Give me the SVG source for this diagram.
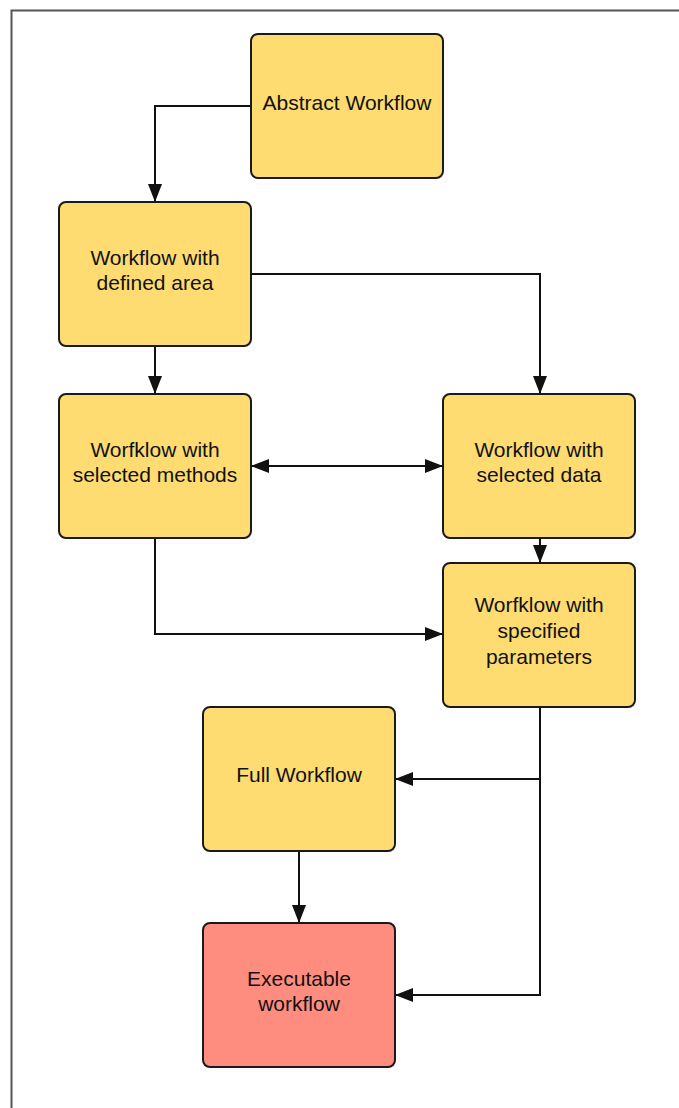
<svg xmlns="http://www.w3.org/2000/svg" width="679" height="1108" viewBox="0 0 679 1108">
  <style>
    .node rect { stroke: #1a1a1a; stroke-width: 2; }
    .proc rect { fill: #fedc72; }
    .final rect { fill: #ff8d7f; }
    .node text { font-family: "Liberation Sans", Arial, sans-serif; font-size: 21px; fill: #111; text-anchor: middle; }
    .edge { fill: none; stroke: #111; stroke-width: 2; }
  </style>
  <defs>
    <marker id="arrow" viewBox="0 0 18 14" refX="18" refY="7" markerWidth="18" markerHeight="14" markerUnits="userSpaceOnUse" orient="auto-start-reverse">
      <path d="M0,0 L18,7 L0,14 Z" fill="#111"/>
    </marker>
  </defs>

  <rect width="679" height="1108" fill="#fff"/>
  <!-- page frame -->
  <path d="M11.5,1108 V10.5 H679" fill="none" stroke="#555" stroke-width="2"/>

  <g id="connectors">
    <path class="edge" d="M251,106 H155 V202" marker-end="url(#arrow)"/>
    <path class="edge" d="M251,274 H540 V394" marker-end="url(#arrow)"/>
    <path class="edge" d="M155,346 V394" marker-end="url(#arrow)"/>
    <path class="edge" d="M251,466 H443" marker-start="url(#arrow)" marker-end="url(#arrow)"/>
    <path class="edge" d="M540,538 V563" marker-end="url(#arrow)"/>
    <path class="edge" d="M155,538 V634 H443" marker-end="url(#arrow)"/>
    <path class="edge" d="M540,707 V779 H395" marker-end="url(#arrow)"/>
    <path class="edge" d="M540,779 V995 H395" marker-end="url(#arrow)"/>
    <path class="edge" d="M299,851 V923" marker-end="url(#arrow)"/>
  </g>

  <g id="abstract-workflow" class="node proc">
    <rect x="251" y="34" width="192" height="144" rx="7"/>
    <text x="347" y="110">Abstract Workflow</text>
  </g>

  <g id="defined-area" class="node proc">
    <rect x="59" y="202" width="192" height="144" rx="7"/>
    <text x="155" y="265">Workflow with</text>
    <text x="155" y="290">defined area</text>
  </g>

  <g id="selected-methods" class="node proc">
    <rect x="59" y="394" width="192" height="144" rx="7"/>
    <text x="155" y="457">Worfklow with</text>
    <text x="155" y="482">selected methods</text>
  </g>

  <g id="selected-data" class="node proc">
    <rect x="443" y="394" width="192" height="144" rx="7"/>
    <text x="539" y="457">Workflow with</text>
    <text x="539" y="482">selected data</text>
  </g>

  <g id="specified-parameters" class="node proc">
    <rect x="443" y="563" width="192" height="144" rx="7"/>
    <text x="539" y="612">Worfklow with</text>
    <text x="539" y="638">specified</text>
    <text x="539" y="664">parameters</text>
  </g>

  <g id="full-workflow" class="node proc">
    <rect x="203" y="707" width="192" height="144" rx="7"/>
    <text x="299" y="782">Full Workflow</text>
  </g>

  <g id="executable-workflow" class="node final">
    <rect x="203" y="923" width="192" height="144" rx="7"/>
    <text x="299" y="986">Executable</text>
    <text x="299" y="1011">workflow</text>
  </g>
</svg>
